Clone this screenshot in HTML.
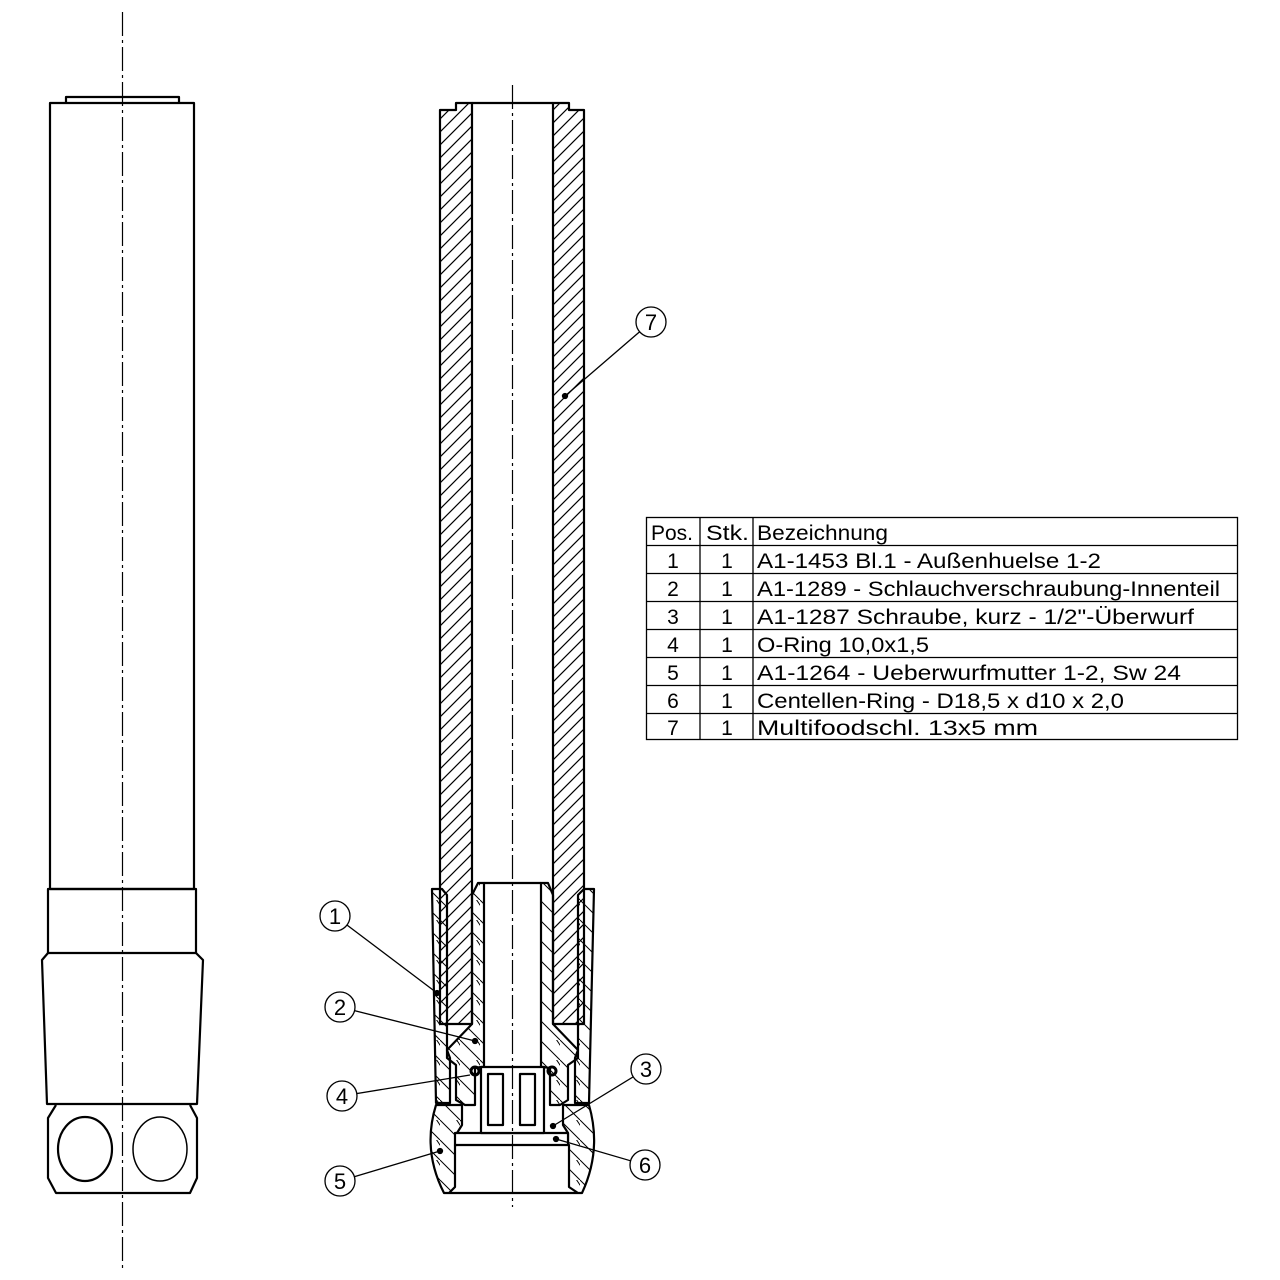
<!DOCTYPE html>
<html><head><meta charset="utf-8"><style>
html,body{margin:0;padding:0;background:#fff;}
svg{display:block;}
text{font-family:"Liberation Sans","DejaVu Sans",sans-serif;}
</style></head><body>
<svg width="1280" height="1280" viewBox="0 0 1280 1280" xmlns="http://www.w3.org/2000/svg">
<defs>
<pattern id="h" patternUnits="userSpaceOnUse" width="13" height="13">
<path d="M-3,16 L16,-3 M-3,3 L3,-3 M10,16 L16,10" stroke="#000" stroke-width="1.2"/>
</pattern>
<pattern id="h2" patternUnits="userSpaceOnUse" width="20" height="20">
<path d="M0,0 L20,20 M-10,10 L0,20 M10,-10 L30,20" stroke="#000" stroke-width="1"/>
</pattern>
</defs>
<g fill="none" stroke="#000" stroke-width="2.2" stroke-linejoin="round">
<!-- LEFT VIEW -->
<path d="M66,103 V97 H179 V103"/>
<rect x="50" y="103" width="144" height="786"/>
<rect x="48" y="889" width="148" height="64"/>
<path d="M48,953 L42,960 L47,1104 H197 L203,960 L196,953"/>
<path d="M56,1105 L48,1118 V1178 L56,1193 H190 L197,1178 V1118 L190,1105"/>
<ellipse cx="85" cy="1149" rx="27" ry="32"/>
<ellipse cx="160" cy="1149" rx="27" ry="32" stroke-width="1.5"/>
<!-- SECTION: tube 7 -->
<path d="M440,1024 V110 H456 V103 H472 V1024 Z" fill="url(#h)"/>
<path d="M584,1024 V110 H569 V103 H553 V1024 Z" fill="url(#h)"/>
<line x1="472" y1="103" x2="553" y2="103"/>
<!-- sleeve 1 -->
<path d="M432,889 H442 L447,895 V1050 L450,1058 V1103 H436 Z" fill="url(#h2)"/>
<path d="M594,889 H584 L578,895 V1050 L575,1058 V1103 H589 Z" fill="url(#h2)"/>
<!-- insert 2 -->
<path d="M478,883 H484 V1067 H481 L475,1068 V1105 H465 L456,1100 V1065 L447,1058 V1050 L472,1024 V895 Z" fill="url(#h2)"/>
<path d="M548,883 H541 V1067 H543 L550,1068 V1105 H560 L568,1100 V1065 L578,1058 V1050 L553,1024 V895 Z" fill="url(#h2)"/>
<line x1="484" y1="883" x2="541" y2="883"/>
<!-- nut 5 -->
<path d="M436,1105 H462 V1125 L457,1133 V1145 H455 V1187 L449,1193 H578 L569,1187 V1145 H568 V1133 L563,1125 V1105 H589 Q602,1150 582,1193 H444 Q422,1150 436,1105 Z" fill="url(#h2)"/>
<!-- ring 6 -->
<rect x="455" y="1133" width="113" height="12" fill="#fff"/>
<!-- screw 3 -->
<rect x="481" y="1067" width="63" height="66" fill="#fff"/>
<rect x="488" y="1074" width="15" height="51"/>
<rect x="520" y="1074" width="15" height="51"/>
<circle cx="475" cy="1071" r="4" stroke-width="3"/>
<circle cx="552" cy="1071" r="4" stroke-width="3"/>
</g>
<!-- centerlines -->
<g stroke="#000" stroke-width="1.2" fill="none">
<line x1="122.5" y1="12" x2="122.5" y2="1272" stroke-dasharray="24,4,3,4"/>
<line x1="512.5" y1="85" x2="512.5" y2="1207" stroke-dasharray="24,4,3,4"/>
</g>
<!-- balloons -->
<g stroke="#000" stroke-width="1.3" fill="#fff">
<line x1="651" y1="322" x2="565" y2="396"/><circle cx="565" cy="396" r="2.5" fill="#000"/>
<line x1="335" y1="916" x2="437" y2="993"/><circle cx="437" cy="993" r="2.5" fill="#000"/>
<line x1="340" y1="1007" x2="475" y2="1041"/><circle cx="475" cy="1041" r="2.5" fill="#000"/>
<line x1="342" y1="1096" x2="470" y2="1075"/>
<line x1="646" y1="1069" x2="553" y2="1126"/><circle cx="553" cy="1126" r="2.5" fill="#000"/>
<line x1="645" y1="1165" x2="556" y2="1139"/><circle cx="556" cy="1139" r="2.5" fill="#000"/>
<line x1="340" y1="1181" x2="440" y2="1151"/><circle cx="440" cy="1151" r="2.5" fill="#000"/>
<circle cx="651" cy="322" r="15"/><circle cx="335" cy="916" r="15"/><circle cx="340" cy="1007" r="15"/>
<circle cx="342" cy="1096" r="15"/><circle cx="646" cy="1069" r="15"/><circle cx="645" cy="1165" r="15"/>
<circle cx="340" cy="1181" r="15"/>
</g>
<g font-size="22" text-anchor="middle" fill="#000">
<text x="651" y="330">7</text><text x="335" y="924">1</text><text x="340" y="1015">2</text>
<text x="342" y="1104">4</text><text x="646" y="1077">3</text><text x="645" y="1173">6</text><text x="340" y="1189">5</text>
</g>
<!-- table -->
<g stroke="#000" stroke-width="1.3" fill="none">
<rect x="646.5" y="517.5" width="591" height="222"/>
<line x1="700" y1="518" x2="700" y2="740"/><line x1="753" y1="518" x2="753" y2="740"/>
<line x1="646" y1="545.5" x2="1238" y2="545.5"/><line x1="646" y1="573.5" x2="1238" y2="573.5"/>
<line x1="646" y1="601.5" x2="1238" y2="601.5"/><line x1="646" y1="629.5" x2="1238" y2="629.5"/>
<line x1="646" y1="657.5" x2="1238" y2="657.5"/><line x1="646" y1="685.5" x2="1238" y2="685.5"/>
<line x1="646" y1="713.5" x2="1238" y2="713.5"/>
</g>
<g font-size="21" fill="#000">
<text x="651" y="540" textLength="42" lengthAdjust="spacingAndGlyphs">Pos.</text><text x="706" y="540" textLength="43" lengthAdjust="spacingAndGlyphs">Stk.</text><text x="757" y="540" textLength="131" lengthAdjust="spacingAndGlyphs">Bezeichnung</text>
<text x="673" y="568" text-anchor="middle">1</text><text x="727" y="568" text-anchor="middle">1</text><text x="757" y="568" textLength="344" lengthAdjust="spacingAndGlyphs">A1-1453 Bl.1 - Außenhuelse 1-2</text>
<text x="673" y="596" text-anchor="middle">2</text><text x="727" y="596" text-anchor="middle">1</text><text x="757" y="596" textLength="463" lengthAdjust="spacingAndGlyphs">A1-1289 - Schlauchverschraubung-Innenteil</text>
<text x="673" y="624" text-anchor="middle">3</text><text x="727" y="624" text-anchor="middle">1</text><text x="757" y="624" textLength="437" lengthAdjust="spacingAndGlyphs">A1-1287 Schraube, kurz - 1/2"-Überwurf</text>
<text x="673" y="652" text-anchor="middle">4</text><text x="727" y="652" text-anchor="middle">1</text><text x="757" y="652" textLength="172" lengthAdjust="spacingAndGlyphs">O-Ring 10,0x1,5</text>
<text x="673" y="680" text-anchor="middle">5</text><text x="727" y="680" text-anchor="middle">1</text><text x="757" y="680" textLength="424" lengthAdjust="spacingAndGlyphs">A1-1264 - Ueberwurfmutter 1-2, Sw 24</text>
<text x="673" y="708" text-anchor="middle">6</text><text x="727" y="708" text-anchor="middle">1</text><text x="757" y="708" textLength="367" lengthAdjust="spacingAndGlyphs">Centellen-Ring - D18,5 x d10 x 2,0</text>
<text x="673" y="735" text-anchor="middle">7</text><text x="727" y="735" text-anchor="middle">1</text><text x="757" y="735" textLength="281" lengthAdjust="spacingAndGlyphs">Multifoodschl. 13x5 mm</text>
</g>
</svg>
</body></html>
